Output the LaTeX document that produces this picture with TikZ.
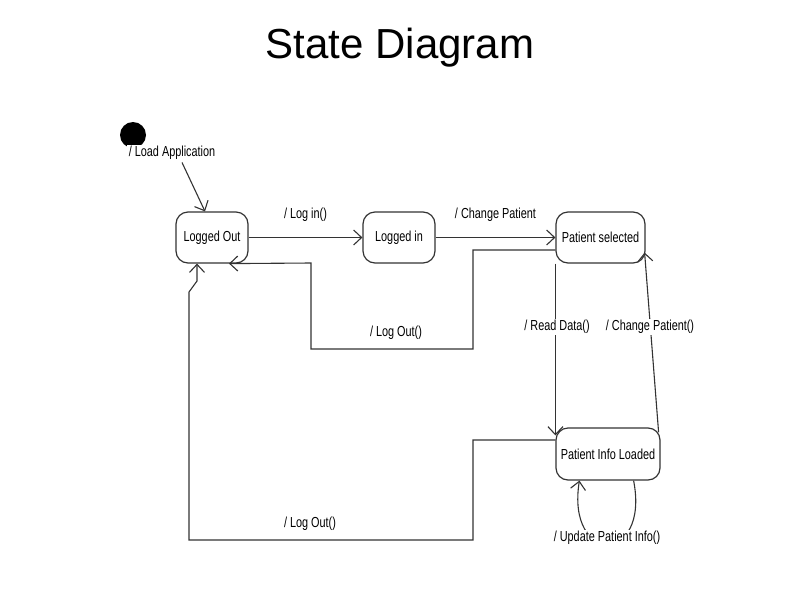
\documentclass[tikz,border=0pt]{standalone}
\usepackage{fontspec}
\setmainfont{Liberation Sans}
\newfontfamily\narrow[FakeStretch=0.75]{Liberation Sans}
\usetikzlibrary{arrows.meta,calc}
\begin{document}
\begin{tikzpicture}[x=1pt,y=-1pt,
  state/.style={draw=black!80, line width=1.2pt, rounded corners=12pt, minimum height=51pt, inner sep=0pt,
    font=\narrow\fontsize{14.5}{16}\selectfont},
  edge/.style={draw=black!80, line width=1.1pt, -{Straight Barb[length=8pt,width=15pt]}},
  lbl/.style={font=\narrow\fontsize{14.5}{16}\selectfont, fill=white, inner sep=1.5pt}]
\useasboundingbox (0,0) rectangle (800,600);
\node[font=\fontsize{42}{48}\selectfont] (title) at (400,48) {State Diagram};

\node[state, minimum width=72pt] (lo) at (212,237.5) {Logged Out};
\node[state, minimum width=72pt] (li) at (399,237.5) {Logged in};
\node[state, minimum width=89pt] (ps) at (600.5,237.5) {Patient selected};
\node[state, minimum width=104pt, minimum height=52pt] (pil) at (608,454) {Patient Info Loaded};

\node[circle, fill=black, minimum size=26pt, inner sep=0pt] (init) at (133,135) {};
\node[lbl] (lla) at (172,153) {/ Load Application};
\draw[edge] ($(lla.south)+(10,1)$) -- ($(lo.north)+(-7,0)$);

\draw[edge] (lo.east) -- node[lbl, above=14pt] {/ Log in()} (li.west);
\draw[edge] (li.east) -- node[lbl, above=14pt] {/ Change Patient} (ps.west);

\coordinate (a1) at (473,250);
\coordinate (a2) at (473,349);
\coordinate (a3) at (311,349);
\coordinate (a4) at (311,263);
\draw[edge] ($(ps.west)+(0,12.5)$) -- (a1) -- (a2) -- (a3) -- (a4) -- ($(lo.south)+(17,0)$);
\node[lbl] (lbo1) at (396,333) {/ Log Out()};

\coordinate (b1) at (473,440);
\coordinate (b2) at (473,540);
\coordinate (b3) at (189,540);
\coordinate (b4) at (189,292);
\coordinate (b5) at (197,281);
\draw[edge] ($(pil.west)+(0,-14)$) -- (b1) -- (b2) -- (b3) -- (b4) -- (b5) -- ($(lo.south)+(-15,0)$);
\node[lbl] (lbo2) at (310,524) {/ Log Out()};

\draw[edge] (ps.south west) -- ($(pil.north west)+(0,8)$);
\node[lbl] (lrd) at (557,327) {/ Read Data()};

\draw[edge] ($(pil.north east)+(-2,5)$) -- ($(ps.south east)+(-1,-11)$);
\node[lbl] (lcp) at (650,327) {/ Change Patient()};

\draw[edge] ($(pil.south east)+(-27,0)$) .. controls (650,565) and (566,565) .. ($(pil.south west)+(24,0)$);
\node[lbl] (lup) at (607,538) {/ Update Patient Info()};
\end{tikzpicture}
\end{document}
